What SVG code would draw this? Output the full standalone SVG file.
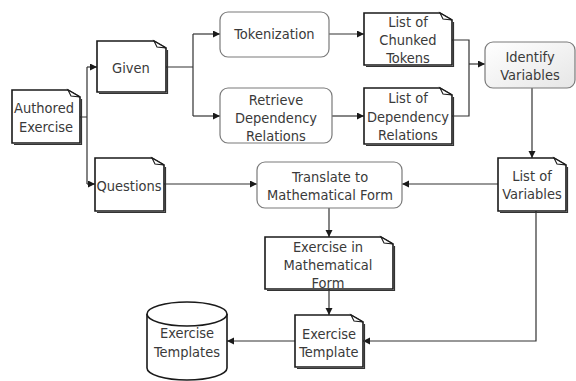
<svg xmlns="http://www.w3.org/2000/svg" width="576" height="381" viewBox="0 0 576 381">
<defs>
<marker id="ah" markerUnits="userSpaceOnUse" markerWidth="8" markerHeight="8" refX="7" refY="3.5" orient="auto">
<path d="M0,0 L7,3.5 L0,7 Z" fill="#1a1a1a"/>
</marker>
<linearGradient id="gr" x1="0" y1="0" x2="1" y2="1">
<stop offset="0" stop-color="#ffffff"/>
<stop offset="1" stop-color="#e6e6e6"/>
</linearGradient>
<style>
.doc{fill:#fff;stroke:#1a1a1a;stroke-width:1.6}
.sh{fill:none;stroke:#333;stroke-width:1.2}
.fold{fill:#fff;stroke:#1a1a1a;stroke-width:1.1}
.rnd{fill:#fff;stroke:#7a7a7a;stroke-width:1.2}
.cn{fill:none;stroke:#333;stroke-width:1.2}
.ar{marker-end:url(#ah)}
text{font-family:"DejaVu Sans Condensed","DejaVu Sans",sans-serif;font-size:14.5px;fill:#3a3a3a;text-anchor:middle}
</style>
</defs>
<g id="connectors">
<path class="cn" d="M80,117 H87 M87,67 V184"/>
<path class="cn ar" d="M87,67 H97"/>
<path class="cn ar" d="M87,184 H95"/>
<path class="cn" d="M166,67 H193 M193,34 V116"/>
<path class="cn ar" d="M193,34 H220"/>
<path class="cn ar" d="M193,116 H220"/>
<path class="cn ar" d="M329,34 H364"/>
<path class="cn ar" d="M332,116 H364"/>
<path class="cn" d="M452,40 H469 V116 H452"/>
<path class="cn ar" d="M469,64 H485"/>
<path class="cn ar" d="M532,88 V158"/>
<path class="cn ar" d="M498,184 H402"/>
<path class="cn ar" d="M164,184 H257"/>
<path class="cn ar" d="M329,208 V237"/>
<path class="cn ar" d="M329,289 V315"/>
<path class="cn ar" d="M536,211 V341 H363"/>
<path class="cn ar" d="M295,341 H227"/>
</g>
<g id="authored">
<path class="sh" d="M81.5,99 V144.5 H14"/>
<path class="doc" d="M12,90 H68 L80,97 V143 H12 Z"/>
<path class="fold" d="M68,90 L71,96 L80,97 Z"/>
<text x="44" y="113">Authored</text>
<text x="46" y="132">Exercise</text>
</g>
<g id="given">
<path class="sh" d="M167.5,50 V93.5 H99"/>
<path class="doc" d="M97,41 H154 L166,48 V92 H97 Z"/>
<path class="fold" d="M154,41 L157,47 L166,48 Z"/>
<text x="131" y="73">Given</text>
</g>
<g id="questions">
<path class="sh" d="M165.5,167 V212.5 H97"/>
<path class="doc" d="M95,158 H152 L164,165 V211 H95 Z"/>
<path class="fold" d="M152,158 L155,164 L164,165 Z"/>
<text x="129" y="191">Questions</text>
</g>
<g id="tokenization">
<rect class="rnd" x="220" y="12" width="109" height="45" rx="8"/>
<text x="274.5" y="39">Tokenization</text>
</g>
<g id="retrieve">
<rect class="rnd" x="220" y="88" width="112" height="55" rx="8"/>
<text x="276" y="105">Retrieve</text>
<text x="276" y="123">Dependency</text>
<text x="276" y="141">Relations</text>
</g>
<g id="chunked">
<path class="sh" d="M453.5,22 V66.5 H366"/>
<path class="doc" d="M364,13 H440 L452,20 V65 H364 Z"/>
<path class="fold" d="M440,13 L443,19 L452,20 Z"/>
<text x="408" y="27">List of</text>
<text x="408" y="45">Chunked</text>
<text x="408" y="63">Tokens</text>
</g>
<g id="dependency">
<path class="sh" d="M453.5,97 V145.5 H366"/>
<path class="doc" d="M364,88 H440 L452,95 V144 H364 Z"/>
<path class="fold" d="M440,88 L443,94 L452,95 Z"/>
<text x="408" y="103">List of</text>
<text x="408" y="122">Dependency</text>
<text x="408" y="140">Relations</text>
</g>
<g id="identify">
<rect x="485" y="42" width="90" height="46" rx="8" fill="url(#gr)" stroke="#7a7a7a" stroke-width="1.2"/>
<text x="530" y="62">Identify</text>
<text x="530" y="80">Variables</text>
</g>
<g id="listvars">
<path class="sh" d="M567.5,167 V212.5 H500"/>
<path class="doc" d="M498,158 H554 L566,165 V211 H498 Z"/>
<path class="fold" d="M554,158 L557,164 L566,165 Z"/>
<text x="532" y="181">List of</text>
<text x="532" y="199">Variables</text>
</g>
<g id="translate">
<rect class="rnd" x="257" y="162" width="145" height="46" rx="8"/>
<text x="330" y="182">Translate to</text>
<text x="330" y="200">Mathematical Form</text>
</g>
<g id="exmath">
<path class="sh" d="M394.5,246 V290.5 H267"/>
<path class="doc" d="M265,237 H381 L393,244 V289 H265 Z"/>
<path class="fold" d="M381,237 L384,243 L393,244 Z"/>
<text x="328" y="252">Exercise in</text>
<text x="328" y="270">Mathematical</text>
<text x="328" y="288">Form</text>
</g>
<g id="extemplate">
<path class="sh" d="M364.5,324 V368.5 H297"/>
<path class="doc" d="M295,315 H351 L363,322 V367 H295 Z"/>
<path class="fold" d="M351,315 L354,321 L363,322 Z"/>
<text x="329" y="339">Exercise</text>
<text x="329" y="357">Template</text>
</g>
<g id="templates">
<path d="M147,314 V368 A40,12 0 0 0 227,368 V314" fill="#fff" stroke="#1a1a1a" stroke-width="1.6"/>
<ellipse cx="187" cy="314" rx="40" ry="12" fill="#fff" stroke="#1a1a1a" stroke-width="1.6"/>
<text x="187" y="338">Exercise</text>
<text x="187" y="357">Templates</text>
</g>
</svg>
